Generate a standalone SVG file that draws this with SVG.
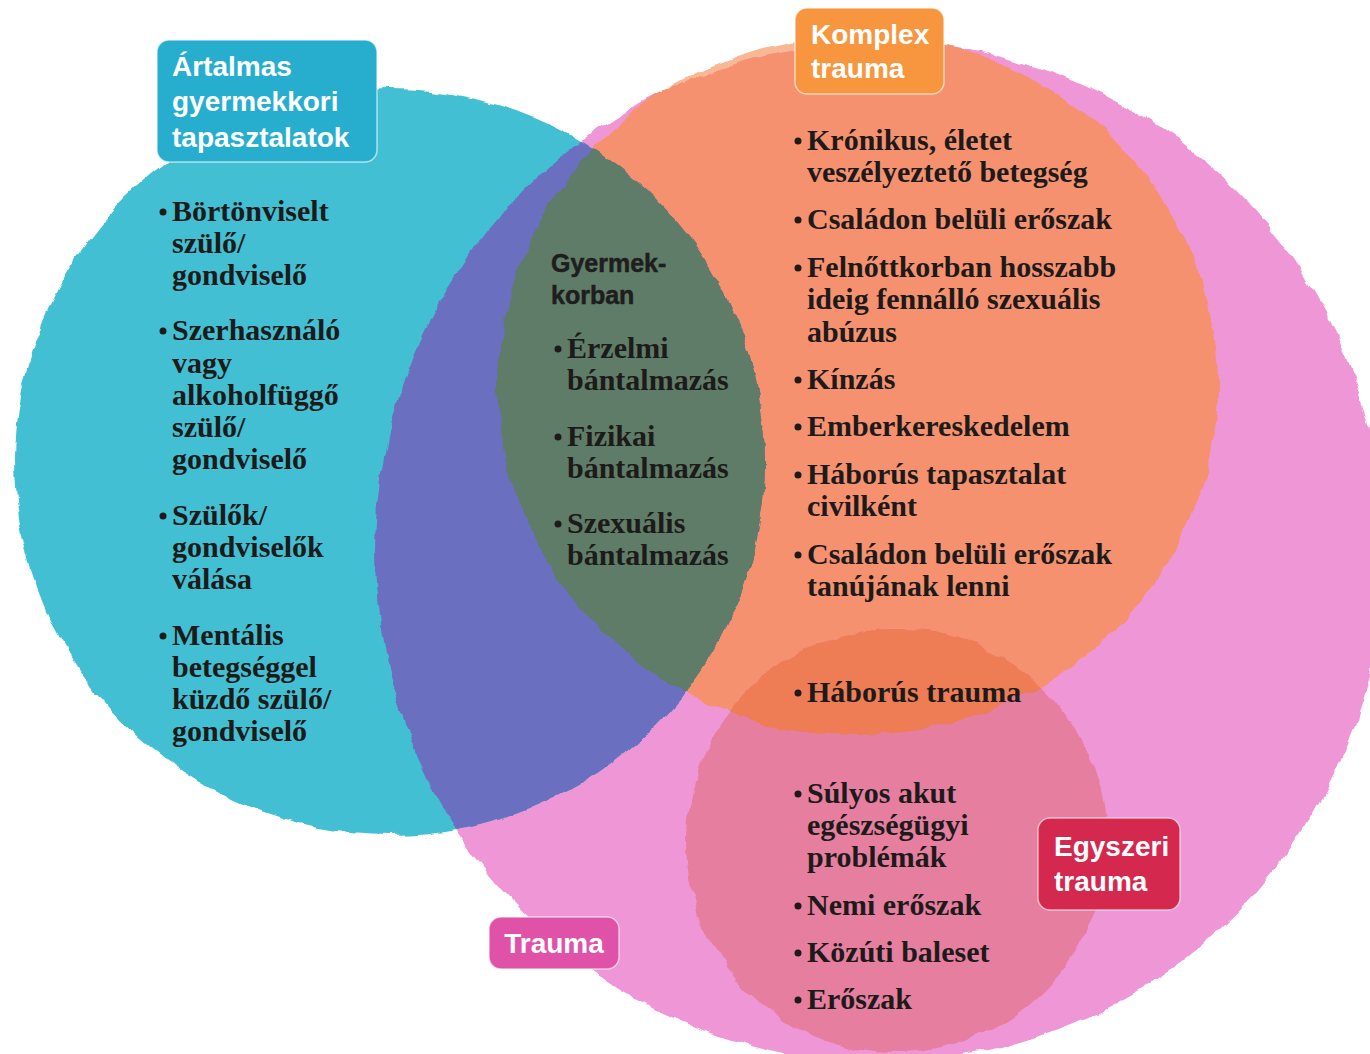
<svg xmlns="http://www.w3.org/2000/svg" width="1370" height="1054" viewBox="0 0 1370 1054">
  <defs>
    <style>
      .item { font-family: "Liberation Serif", "Times New Roman", serif; font-weight: 700; font-size: 30px; fill: #1d1b1a; }
      .head { font-family: "Liberation Sans", Arial, sans-serif; font-weight: 700; font-size: 25px; fill: #1e1e1e; stroke: #1e1e1e; stroke-width: 0.5; }
      .lbl { font-family: "Liberation Sans", Arial, sans-serif; font-weight: 700; font-size: 28px; fill: #ffffff; }
      .bullet { fill: #1d1b1a; }
      .box { stroke: #ffffff; stroke-opacity: 0.6; stroke-width: 1.5; }
    </style>
    <clipPath id="cPink"><ellipse cx="880" cy="552" rx="505" ry="510"/></clipPath>
    <clipPath id="cOrange"><ellipse cx="858" cy="385" rx="360" ry="350"/></clipPath>
    <filter id="rough" filterUnits="userSpaceOnUse" x="0" y="0" width="1370" height="1054">
      <feTurbulence type="fractalNoise" baseFrequency="0.035" numOctaves="3" seed="4" result="n"/>
      <feDisplacementMap in="SourceGraphic" in2="n" scale="10" xChannelSelector="R" yChannelSelector="G"/>
    </filter>
  </defs>
  <rect width="1370" height="1054" fill="#ffffff"/>

  <g id="shapes" filter="url(#rough)">
    <ellipse cx="858" cy="385" rx="360" ry="350" fill="#f8b893"/>
    <ellipse cx="880" cy="552" rx="505" ry="510" fill="#ef96d6"/>
    <ellipse cx="390" cy="462" rx="375" ry="373" fill="#43bfd2"/>
    <g clip-path="url(#cPink)">
      <ellipse cx="858" cy="385" rx="360" ry="350" fill="#f69170"/>
      <ellipse cx="390" cy="462" rx="375" ry="373" fill="#6b70bf"/>
    </g>
    <g clip-path="url(#cOrange)">
      <ellipse cx="390" cy="462" rx="375" ry="373" fill="#5f7b68"/>
    </g>
    <ellipse cx="896" cy="841" rx="210" ry="212" fill="#e67ea0"/>
    <g clip-path="url(#cOrange)">
      <ellipse cx="896" cy="841" rx="210" ry="212" fill="#ee7b55"/>
    </g>
  </g>

  <g id="node-artalmas">
    <rect class="box" x="157" y="40" width="220" height="122" rx="12" fill="#27aecf"/>
    <text class="lbl" x="172" y="76">Ártalmas</text>
    <text class="lbl" x="172" y="111">gyermekkori</text>
    <text class="lbl" x="172" y="147">tapasztalatok</text>
    <g>
      <circle class="bullet" cx="163" cy="212" r="3.5"/>
      <text class="item" x="172" y="221">Börtönviselt</text>
      <text class="item" x="172" y="253">szülő/</text>
      <text class="item" x="172" y="285">gondviselő</text>
      <circle class="bullet" cx="163" cy="331" r="3.5"/>
      <text class="item" x="172" y="340">Szerhasználó</text>
      <text class="item" x="172" y="373">vagy</text>
      <text class="item" x="172" y="405">alkoholfüggő</text>
      <text class="item" x="172" y="437">szülő/</text>
      <text class="item" x="172" y="469">gondviselő</text>
      <circle class="bullet" cx="163" cy="516" r="3.5"/>
      <text class="item" x="172" y="525">Szülők/</text>
      <text class="item" x="172" y="557">gondviselők</text>
      <text class="item" x="172" y="589">válása</text>
      <circle class="bullet" cx="163" cy="636" r="3.5"/>
      <text class="item" x="172" y="645">Mentális</text>
      <text class="item" x="172" y="677">betegséggel</text>
      <text class="item" x="172" y="709">küzdő szülő/</text>
      <text class="item" x="172" y="741">gondviselő</text>
    </g>
  </g>

  <g id="node-gyermekkorban">
    <text class="head" x="551" y="272">Gyermek-</text>
    <text class="head" x="551" y="304">korban</text>
    <circle class="bullet" cx="558" cy="349" r="3.5"/>
    <text class="item" x="567" y="358">Érzelmi</text>
    <text class="item" x="567" y="390">bántalmazás</text>
    <circle class="bullet" cx="558" cy="437" r="3.5"/>
    <text class="item" x="567" y="446">Fizikai</text>
    <text class="item" x="567" y="478">bántalmazás</text>
    <circle class="bullet" cx="558" cy="524" r="3.5"/>
    <text class="item" x="567" y="533">Szexuális</text>
    <text class="item" x="567" y="565">bántalmazás</text>
  </g>

  <g id="node-komplex">
    <rect class="box" x="795" y="8" width="149" height="86" rx="12" fill="#f7963e"/>
    <text class="lbl" x="811" y="44">Komplex</text>
    <text class="lbl" x="811" y="78">trauma</text>
    <circle class="bullet" cx="798" cy="141" r="3.5"/>
    <text class="item" x="807" y="150">Krónikus, életet</text>
    <text class="item" x="807" y="182">veszélyeztető betegség</text>
    <circle class="bullet" cx="798" cy="220" r="3.5"/>
    <text class="item" x="807" y="229">Családon belüli erőszak</text>
    <circle class="bullet" cx="798" cy="268" r="3.5"/>
    <text class="item" x="807" y="277">Felnőttkorban hosszabb</text>
    <text class="item" x="807" y="309">ideig fennálló szexuális</text>
    <text class="item" x="807" y="342">abúzus</text>
    <circle class="bullet" cx="798" cy="380" r="3.5"/>
    <text class="item" x="807" y="389">Kínzás</text>
    <circle class="bullet" cx="798" cy="427" r="3.5"/>
    <text class="item" x="807" y="436">Emberkereskedelem</text>
    <circle class="bullet" cx="798" cy="475" r="3.5"/>
    <text class="item" x="807" y="484">Háborús tapasztalat</text>
    <text class="item" x="807" y="516">civilként</text>
    <circle class="bullet" cx="798" cy="555" r="3.5"/>
    <text class="item" x="807" y="564">Családon belüli erőszak</text>
    <text class="item" x="807" y="596">tanújának lenni</text>
    <circle class="bullet" cx="798" cy="693" r="3.5"/>
    <text class="item" x="807" y="702">Háborús trauma</text>
  </g>

  <g id="node-egyszeri">
    <rect class="box" x="1038" y="818" width="142" height="92" rx="12" fill="#d5284f"/>
    <text class="lbl" x="1054" y="856">Egyszeri</text>
    <text class="lbl" x="1054" y="891">trauma</text>
    <circle class="bullet" cx="798" cy="794" r="3.5"/>
    <text class="item" x="807" y="803">Súlyos akut</text>
    <text class="item" x="807" y="835">egészségügyi</text>
    <text class="item" x="807" y="867">problémák</text>
    <circle class="bullet" cx="798" cy="906" r="3.5"/>
    <text class="item" x="807" y="915">Nemi erőszak</text>
    <circle class="bullet" cx="798" cy="953" r="3.5"/>
    <text class="item" x="807" y="962">Közúti baleset</text>
    <circle class="bullet" cx="798" cy="1000" r="3.5"/>
    <text class="item" x="807" y="1009">Erőszak</text>
  </g>

  <g id="node-trauma">
    <rect class="box" x="489" y="917" width="130" height="52" rx="12" fill="#e052a8"/>
    <text class="lbl" x="554" y="953" text-anchor="middle">Trauma</text>
  </g>
</svg>
